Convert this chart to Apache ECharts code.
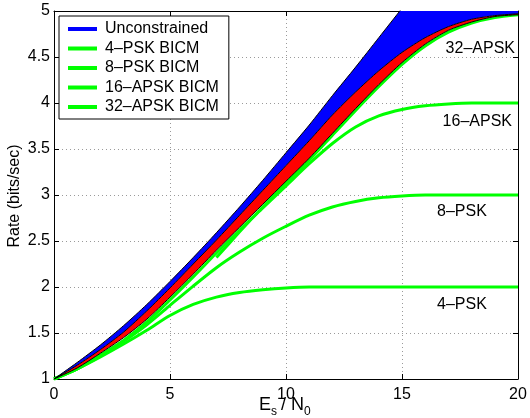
<!DOCTYPE html>
<html><head><meta charset="utf-8">
<script src="https://cdn.jsdelivr.net/npm/echarts@6/dist/echarts.min.js"></script>
<style>html,body{margin:0;padding:0;background:#fff}#c{width:530px;height:418px}</style>
</head><body><div id="c"></div>
<script>
// ---- data ----
const xCategories = ['0','1','2','3','4','5','6','7','8','9','10','11','12','13','14','15','16','17','18','19','20'];
const unconstrained = [1.00,1.18,1.37,1.58,1.81,2.06,2.32,2.59,2.87,3.16,3.46,3.76,4.08,4.39,4.71,5.03,5.35,5.68,6.01,6.34,6.66];
const cmBound      = [1.00,1.15,1.32,1.51,1.74,1.99,2.25,2.51,2.78,3.05,3.32,3.59,3.87,4.12,4.35,4.55,4.71,4.83,4.91,4.95,4.97];
const bicmBound    = [1.00,1.12,1.28,1.45,1.65,1.89,2.14,2.40,2.65,2.90,3.15,3.40,3.67,3.94,4.20,4.44,4.64,4.79,4.88,4.94,4.96];
const psk4   = [1.00,1.11,1.24,1.38,1.53,1.69,1.81,1.89,1.94,1.97,1.99,2.00,2.00,2.00,2.00,2.00,2.00,2.00,2.00,2.00,2.00];
const psk8   = [1.00,1.11,1.25,1.41,1.59,1.80,2.01,2.21,2.38,2.53,2.66,2.78,2.87,2.93,2.97,2.99,3.00,3.00,3.00,3.00,3.00];
const apsk16 = [1.00,1.11,1.26,1.42,1.62,1.86,2.11,2.37,2.62,2.86,3.10,3.34,3.56,3.74,3.86,3.93,3.97,3.99,4.00,4.00,4.00];
const apsk32 = [null,null,null,null,null,null,null,2.32,2.60,2.87,3.13,3.38,3.65,3.92,4.18,4.42,4.62,4.77,4.87,4.93,4.96];
const legendNames = ['Unconstrained','4–PSK BICM','8–PSK BICM','16–APSK BICM','32–APSK BICM'];
const curveLabels = ['32–APSK','16–APSK','8–PSK','4–PSK'];
const yMin = 1, yMax = 5, yStep = 0.5;

// ---- chart ----
const FONT = '"Liberation Sans", Arial, Helvetica, sans-serif';
const BLUE = '#0000ff', RED = '#ff0000', GREEN = '#00ff00';
const chart = echarts.init(document.getElementById('c'), null, {renderer:'canvas'});
const redBand = cmBound.map((v,i)=>+(v - bicmBound[i]).toFixed(4));
const blueBand = unconstrained.map((v,i)=>+(v - cmBound[i]).toFixed(4));
const SM = 0.25;
function greenLine(name, data){
  return {type:'line', name, data, symbol:'none', showSymbol:false, smooth:SM,
    lineStyle:{color:GREEN, width:3}, itemStyle:{color:GREEN}, z:2, animation:false, connectNulls:false};
}
function outline(data){
  return {type:'line', data, symbol:'none', showSymbol:false, smooth:SM,
    lineStyle:{color:'#000', width:1}, z:4, animation:false, silent:true};
}
const option = {
  backgroundColor:'#fff',
  animation:false,
  grid:{left:54, right:12, top:11, bottom:39, containLabel:false},
  xAxis:[
    {type:'category', data:xCategories, boundaryGap:false, position:'bottom',
     axisLine:{show:true, onZero:false, lineStyle:{color:'#000'}},
     axisTick:{show:true, inside:true, length:5, interval:4, lineStyle:{color:'#000'}},
     axisLabel:{interval:4, color:'#000', fontSize:16, fontFamily:FONT, margin:8},
     splitLine:{show:true, interval:4, lineStyle:{color:'#9a9a9a', width:1, type:[1,3]}}},
    {type:'category', data:xCategories, boundaryGap:false, position:'top',
     axisLine:{show:true, onZero:false, lineStyle:{color:'#000'}},
     axisTick:{show:true, inside:true, length:5, interval:4, lineStyle:{color:'#000'}},
     axisLabel:{show:false}, splitLine:{show:false}}
  ],
  yAxis:[
    {type:'value', min:yMin, max:yMax, interval:yStep, position:'left',
     axisLine:{show:true, onZero:false, lineStyle:{color:'#000'}},
     axisTick:{show:true, inside:true, length:5, lineStyle:{color:'#000'}},
     axisLabel:{color:'#000', fontSize:16, fontFamily:FONT, margin:4},
     splitLine:{show:true, lineStyle:{color:'#9a9a9a', width:1, type:[1,3]}}},
    {type:'value', min:yMin, max:yMax, interval:yStep, position:'right',
     axisLine:{show:true, onZero:false, lineStyle:{color:'#000'}},
     axisTick:{show:true, inside:true, length:5, lineStyle:{color:'#000'}},
     axisLabel:{show:false}, splitLine:{show:false}}
  ],
  legend:{
    orient:'vertical', left:59, top:16, padding:[5,10,4,9], itemGap:3.5,
    itemWidth:29, itemHeight:4, icon:'rect', selectedMode:false,
    backgroundColor:'#fff', borderColor:'#000', borderWidth:1, borderRadius:0,
    textStyle:{fontSize:16, color:'#000', fontFamily:FONT, lineHeight:16, padding:[0,0,0,3]},
    data:[
      {name:legendNames[0], itemStyle:{color:BLUE, borderWidth:0}},
      {name:legendNames[1], itemStyle:{color:GREEN, borderWidth:0}},
      {name:legendNames[2], itemStyle:{color:GREEN, borderWidth:0}},
      {name:legendNames[3], itemStyle:{color:GREEN, borderWidth:0}},
      {name:legendNames[4], itemStyle:{color:GREEN, borderWidth:0}}
    ]
  },
  series:[
    greenLine(legendNames[1], psk4),
    greenLine(legendNames[2], psk8),
    greenLine(legendNames[3], apsk16),
    greenLine(legendNames[4], apsk32),
    {type:'line', name:'_base', data:bicmBound, stack:'band', symbol:'none', showSymbol:false, smooth:SM,
     lineStyle:{width:0, opacity:0}, z:3, animation:false, silent:true},
    {type:'line', name:'_red', data:redBand, stack:'band', symbol:'none', showSymbol:false, smooth:SM,
     lineStyle:{width:0, opacity:0}, areaStyle:{color:RED, opacity:1}, itemStyle:{color:RED}, z:3, animation:false, silent:true},
    {type:'line', name:legendNames[0], data:blueBand, stack:'band', symbol:'none', showSymbol:false, smooth:SM,
     lineStyle:{width:0, opacity:0}, areaStyle:{color:BLUE, opacity:1}, itemStyle:{color:BLUE}, z:3, animation:false, silent:true},
    outline(bicmBound),
    outline(cmBound),
    outline(unconstrained)
  ],
  graphic:[
    {type:'text', x:515, y:49, style:{text:curveLabels[0], fill:'#000', font:'16px '+FONT, align:'right', verticalAlign:'middle'}},
    {type:'text', x:512, y:122, style:{text:curveLabels[1], fill:'#000', font:'16px '+FONT, align:'right', verticalAlign:'middle'}},
    {type:'text', x:437, y:212, style:{text:curveLabels[2], fill:'#000', font:'16px '+FONT, align:'left', verticalAlign:'middle'}},
    {type:'text', x:437, y:305, style:{text:curveLabels[3], fill:'#000', font:'16px '+FONT, align:'left', verticalAlign:'middle'}},
    {type:'text', x:15, y:196, rotation:Math.PI/2, style:{text:'Rate (bits/sec)', fill:'#000', font:'16px '+FONT, align:'center', verticalAlign:'middle'}},
    {type:'text', x:259, y:405, style:{text:'E', fill:'#000', font:'18px '+FONT, align:'left', verticalAlign:'middle'}},
    {type:'text', x:271, y:412, style:{text:'s', fill:'#000', font:'12px '+FONT, align:'left', verticalAlign:'middle'}},
    {type:'text', x:281, y:405, style:{text:'/', fill:'#000', font:'18px '+FONT, align:'left', verticalAlign:'middle'}},
    {type:'text', x:291, y:405, style:{text:'N', fill:'#000', font:'18px '+FONT, align:'left', verticalAlign:'middle'}},
    {type:'text', x:304, y:412, style:{text:'0', fill:'#000', font:'12px '+FONT, align:'left', verticalAlign:'middle'}}
  ]
};
chart.setOption(option);
</script></body></html>
